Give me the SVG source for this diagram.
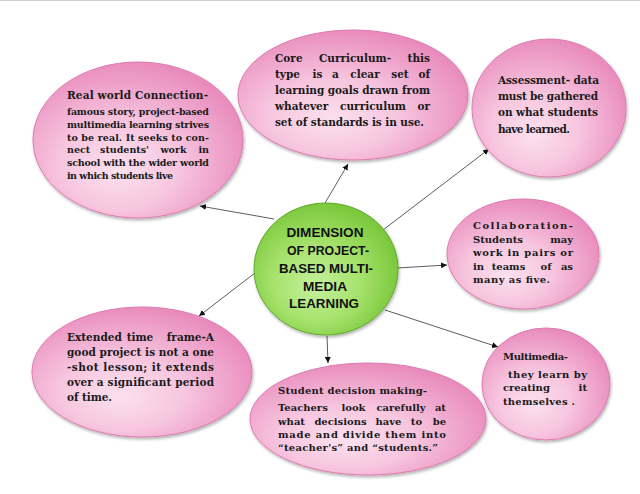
<svg xmlns="http://www.w3.org/2000/svg" width="640" height="494" viewBox="0 0 640 494">
<defs>
  <radialGradient id="pink" cx="42%" cy="62%" r="62%" fx="40%" fy="70%">
    <stop offset="0" stop-color="#fbe0ee"/>
    <stop offset="0.45" stop-color="#f7c6df"/>
    <stop offset="1" stop-color="#e98cbd"/>
  </radialGradient>
  <radialGradient id="green" cx="45%" cy="55%" r="60%" fx="42%" fy="65%">
    <stop offset="0" stop-color="#c4f09c"/>
    <stop offset="0.5" stop-color="#a6e26c"/>
    <stop offset="1" stop-color="#74c434"/>
  </radialGradient>
  <filter id="sh" x="-10%" y="-10%" width="125%" height="130%">
    <feDropShadow dx="1" dy="2" stdDeviation="1.5" flood-color="#000" flood-opacity="0.3"/>
  </filter>
  <marker id="ah" viewBox="0 0 10 10" refX="10" refY="5" markerWidth="6" markerHeight="6" markerUnits="userSpaceOnUse" orient="auto">
    <path d="M0,0 L10,5 L0,10 z" fill="#111"/>
  </marker>
</defs>
<style>
  .pk { fill: url(#pink); stroke: #de7aad; stroke-width: 1; filter: url(#sh); }
  .gr { fill: url(#green); stroke: #5fa82a; stroke-width: 1; filter: url(#sh); }
  .t { font-family: "DejaVu Serif", "Liberation Serif", serif; font-weight: bold; fill: #1a1a1a; }
  .m { text-anchor: middle; }
  .e { text-anchor: end; }
  .c { font-family: "Liberation Sans", Arial, sans-serif; font-weight: bold; fill: #111; font-size: 12.5px; text-anchor: middle; }
  .cn { stroke: #333; stroke-width: 0.8; fill: none; marker-end: url(#ah); }
</style>
<rect x="0" y="0" width="640" height="494" fill="#fff"/>
<line x1="0" y1="0.5" x2="640" y2="0.5" stroke="#cfcfcf" stroke-width="1"/>

<g id="connectors">
  <line class="cn" x1="274" y1="219" x2="200" y2="206"/>
  <line class="cn" x1="325" y1="203" x2="348" y2="164"/>
  <line class="cn" x1="383" y1="230" x2="489" y2="149"/>
  <line class="cn" x1="397" y1="268" x2="447" y2="265"/>
  <line class="cn" x1="385" y1="310" x2="498" y2="347"/>
  <line class="cn" x1="327" y1="336" x2="328" y2="363"/>
  <line class="cn" x1="277" y1="256" x2="199" y2="316"/>
</g>

<g id="real-world">
  <ellipse class="pk" cx="138" cy="140" rx="105" ry="78"/>
  <text class="t" font-size="10.5" x="67" y="99" textLength="141" lengthAdjust="spacing">Real world Connection-</text>
  <g font-size="9.5">
    <text class="t" x="67" y="115" textLength="142" lengthAdjust="spacing">famous story, project-based</text>
    <text class="t" x="67" y="128" textLength="142" lengthAdjust="spacing">multimedia learning strives</text>
    <text class="t" x="67" y="140.5" textLength="142" lengthAdjust="spacing">to be real. It seeks to con-</text>
    <text class="t" y="153"><tspan x="67">nect</tspan><tspan class="m" x="124.5">students'</tspan><tspan class="m" x="173.5">work</tspan><tspan class="e" x="209">in</tspan></text>
    <text class="t" x="67" y="166" textLength="142" lengthAdjust="spacing">school with the wider world</text>
    <text class="t" x="67" y="179" textLength="106" lengthAdjust="spacing">in which students live</text>
  </g>
</g>

<g id="core-curriculum">
  <ellipse class="pk" cx="353" cy="95" rx="115" ry="65"/>
  <g font-size="10.5">
    <text class="t" y="62"><tspan x="275">Core</tspan><tspan class="m" x="355">Curriculum-</tspan><tspan class="e" x="430">this</tspan></text>
    <text class="t" y="78"><tspan x="275">type</tspan><tspan class="m" x="317.5">is</tspan><tspan class="m" x="335.5">a</tspan><tspan class="m" x="365">clear</tspan><tspan class="m" x="400">set</tspan><tspan class="e" x="430">of</tspan></text>
    <text class="t" x="275" y="94" textLength="155" lengthAdjust="spacing">learning goals drawn from</text>
    <text class="t" y="110"><tspan x="275">whatever</tspan><tspan class="m" x="373">curriculum</tspan><tspan class="e" x="430">or</tspan></text>
    <text class="t" x="275" y="126" textLength="149" lengthAdjust="spacing">set of standards is in use.</text>
  </g>
</g>

<g id="assessment">
  <ellipse class="pk" cx="549" cy="108" rx="77" ry="69"/>
  <g font-size="10.5">
    <text class="t" x="498" y="84" textLength="101" lengthAdjust="spacing">Assessment- data</text>
    <text class="t" x="498" y="100" textLength="100" lengthAdjust="spacing">must be gathered</text>
    <text class="t" x="498" y="116" textLength="100" lengthAdjust="spacing">on what students</text>
    <text class="t" x="498" y="133" textLength="72" lengthAdjust="spacing">have learned.</text>
  </g>
</g>

<g id="center">
  <ellipse class="gr" cx="326" cy="269" rx="72" ry="66"/>
  <text class="c" x="325" y="237" textLength="77" lengthAdjust="spacingAndGlyphs">DIMENSION</text>
  <text class="c" x="328" y="255" textLength="82" lengthAdjust="spacingAndGlyphs">OF PROJECT-</text>
  <text class="c" x="326" y="273" textLength="94" lengthAdjust="spacingAndGlyphs">BASED MULTI-</text>
  <text class="c" x="325" y="291" textLength="44" lengthAdjust="spacingAndGlyphs">MEDIA</text>
  <text class="c" x="324" y="308" textLength="70" lengthAdjust="spacingAndGlyphs">LEARNING</text>
</g>

<g id="collaboration">
  <ellipse class="pk" cx="523" cy="254" rx="76" ry="55"/>
  <g font-size="10">
    <text class="t" x="473" y="229" textLength="100" lengthAdjust="spacing">Collaboration-</text>
    <text class="t" y="243"><tspan x="473">Students</tspan><tspan class="e" x="573">may</tspan></text>
    <text class="t" x="473" y="256" textLength="100" lengthAdjust="spacing">work in pairs or</text>
    <text class="t" y="270"><tspan x="473">in</tspan><tspan class="m" x="508.5">teams</tspan><tspan class="m" x="546">of</tspan><tspan class="e" x="573">as</tspan></text>
    <text class="t" x="473" y="283" textLength="77" lengthAdjust="spacing">many as five.</text>
  </g>
</g>

<g id="extended-time-frame">
  <ellipse class="pk" cx="142" cy="372" rx="110" ry="65"/>
  <g font-size="10.5">
    <text class="t" y="341"><tspan x="67">Extended</tspan><tspan class="m" x="140">time</tspan><tspan class="e" x="214">frame-A</tspan></text>
    <text class="t" x="67" y="356" textLength="147" lengthAdjust="spacing">good project is not a one</text>
    <text class="t" x="67" y="371" textLength="147" lengthAdjust="spacing">-shot lesson; it extends</text>
    <text class="t" x="67" y="386" textLength="147" lengthAdjust="spacing">over a significant period</text>
    <text class="t" x="67" y="401" textLength="45" lengthAdjust="spacing">of time.</text>
  </g>
</g>

<g id="student-decision">
  <ellipse class="pk" cx="368" cy="419" rx="118" ry="56"/>
  <g font-size="10">
    <text class="t" x="278" y="394" textLength="149" lengthAdjust="spacing">Student decision making-</text>
    <text class="t" y="411"><tspan x="278">Teachers</tspan><tspan class="m" x="353.5">look</tspan><tspan class="m" x="401">carefully</tspan><tspan class="e" x="446">at</tspan></text>
    <text class="t" y="425"><tspan x="278">what</tspan><tspan class="m" x="340.5">decisions</tspan><tspan class="m" x="388.5">have</tspan><tspan class="m" x="416.5">to</tspan><tspan class="e" x="446">be</tspan></text>
    <text class="t" x="278" y="438" textLength="168" lengthAdjust="spacing">made and divide them into</text>
    <text class="t" x="278" y="451" textLength="160" lengthAdjust="spacing">“teacher's” and “students.”</text>
  </g>
</g>

<g id="multimedia">
  <ellipse class="pk" cx="546" cy="384" rx="64" ry="56"/>
  <g font-size="10">
    <text class="t" x="503" y="360" textLength="65" lengthAdjust="spacing">Multimedia-</text>
    <text class="t" x="508" y="378" textLength="79" lengthAdjust="spacing">they learn by</text>
    <text class="t" y="391"><tspan x="503">creating</tspan><tspan class="e" x="587">it</tspan></text>
    <text class="t" x="503" y="405" textLength="72" lengthAdjust="spacing">themselves .</text>
  </g>
</g>
</svg>
